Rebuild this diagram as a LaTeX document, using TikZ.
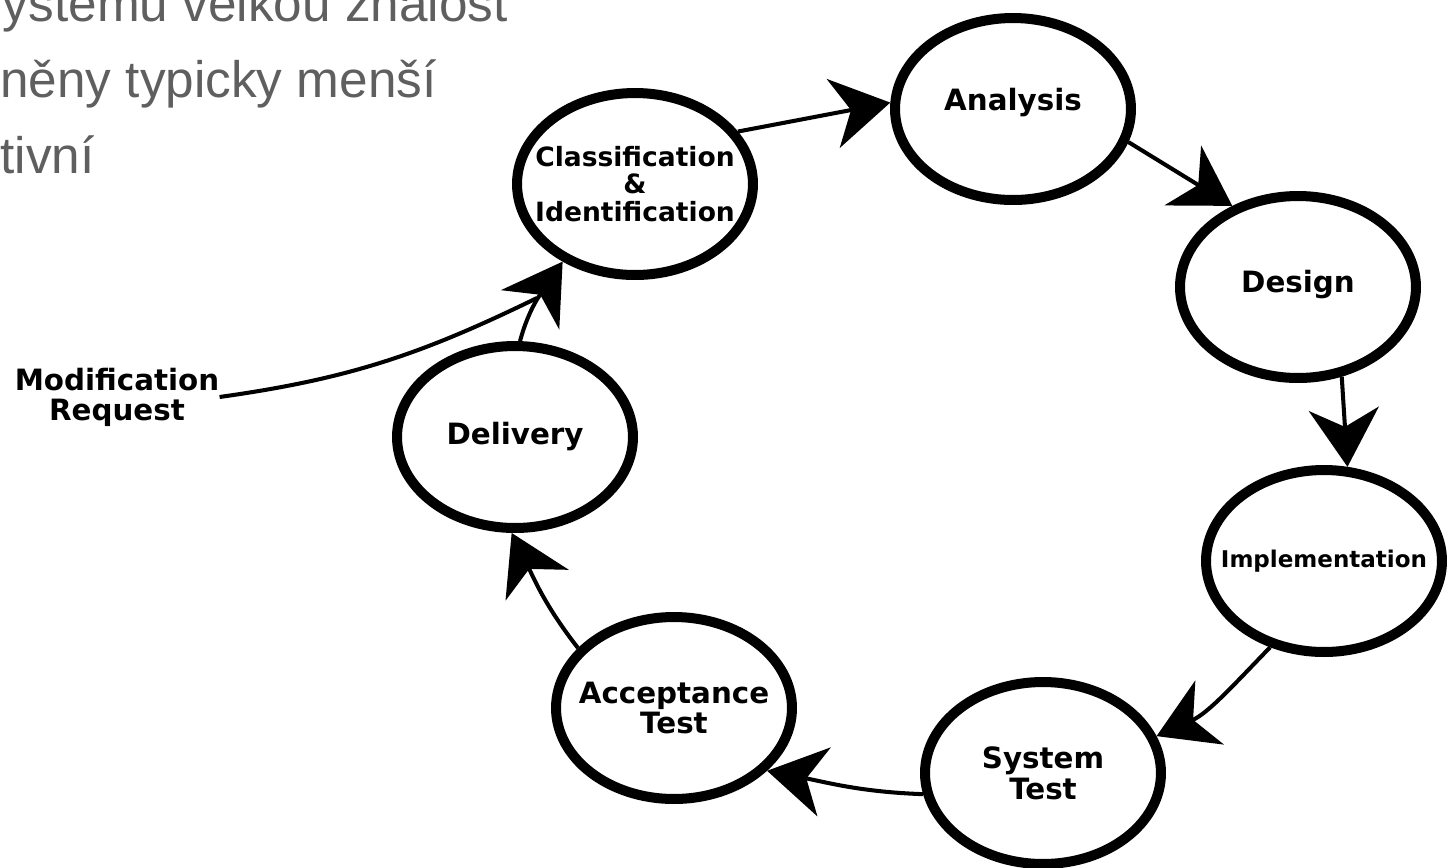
\documentclass[tikz,border=0pt]{standalone}
\usepackage{fontspec}
\newfontfamily\stagefont{DejaVu Sans}
\newfontfamily\slidefont{Liberation Sans}
\newcommand\stagesize[2]{\stagefont\bfseries\fontsize{#1}{#2}\selectfont}
\usetikzlibrary{shapes.geometric,arrows.meta}
\definecolor{slidegray}{RGB}{95,95,95}

\begin{document}
\begin{tikzpicture}[x=0.02cm, y=-0.02cm,
  stage/.style={ellipse, draw, line width=5.7pt, minimum width=4.72cm, minimum height=3.64cm,
    inner xsep=-1.2cm, inner ysep=0pt, align=center, font=\stagesize{16.7}{17.1}},
  flow/.style={line width=2.3pt, -{Stealth[length=1.16cm, width=1.4cm, inset=0.36cm]}},
  slide/.style={anchor=base east, inner sep=0pt, text=slidegray, font=\slidefont\fontsize{29.2}{35}\selectfont}]
  \useasboundingbox (0,0) rectangle (1455,867);
  \clip (0,0) rectangle (1455,867);

  % slide text behind the figure
  \node[slide] (line1) at (508,21)  {ystému velkou znalost};
  \node[slide] (line2) at (437,97)  {něny typicky menší};
  \node[slide] (line3) at (95,173)  {tivní};

  % the maintenance cycle
  \node[stage, font=\stagesize{15.1}{15.6}] (cls) at (635,184) {Classification\\\&\\Identification};
  \node[stage, text depth=0.4cm] (ana) at (1013,109) {Analysis};
  \node[stage, text depth=0.24cm] (des) at (1298,287) {Design};
  \node[stage, font=\stagesize{13.1}{14}] (imp) at (1324,561) {Implementation};
  \node[stage, font=\stagesize{16.7}{17.7}] (sys) at (1043,773) {System\\Test};
  \node[stage] (acc) at (674,708) {Acceptance\\Test};
  \node[stage] (del) at (515,437) {Delivery};
  \node[align=center, inner sep=0pt, font=\stagesize{16.7}{17.1}] (mod) at (117,397) {Modification\\Request};
  \coordinate (join) at (537,298);

  \path[flow]
  (cls.27)   edge (ana.177)
  (ana.-16)  edge (des.129)
  (des.-64)  edge (imp.76)
  (imp.238)  edge[out=226, in=24]  (sys.18)
  (sys.190)  edge[out=178, in=349] (acc.326)
  (acc.148)  edge[out=128, in=296] (del.268)
  (del.87)   edge[out=75, in=236]  (cls.227)
  (mod.east) edge[out=8, in=206, -] (join)
  ;
\end{tikzpicture}
\end{document}
